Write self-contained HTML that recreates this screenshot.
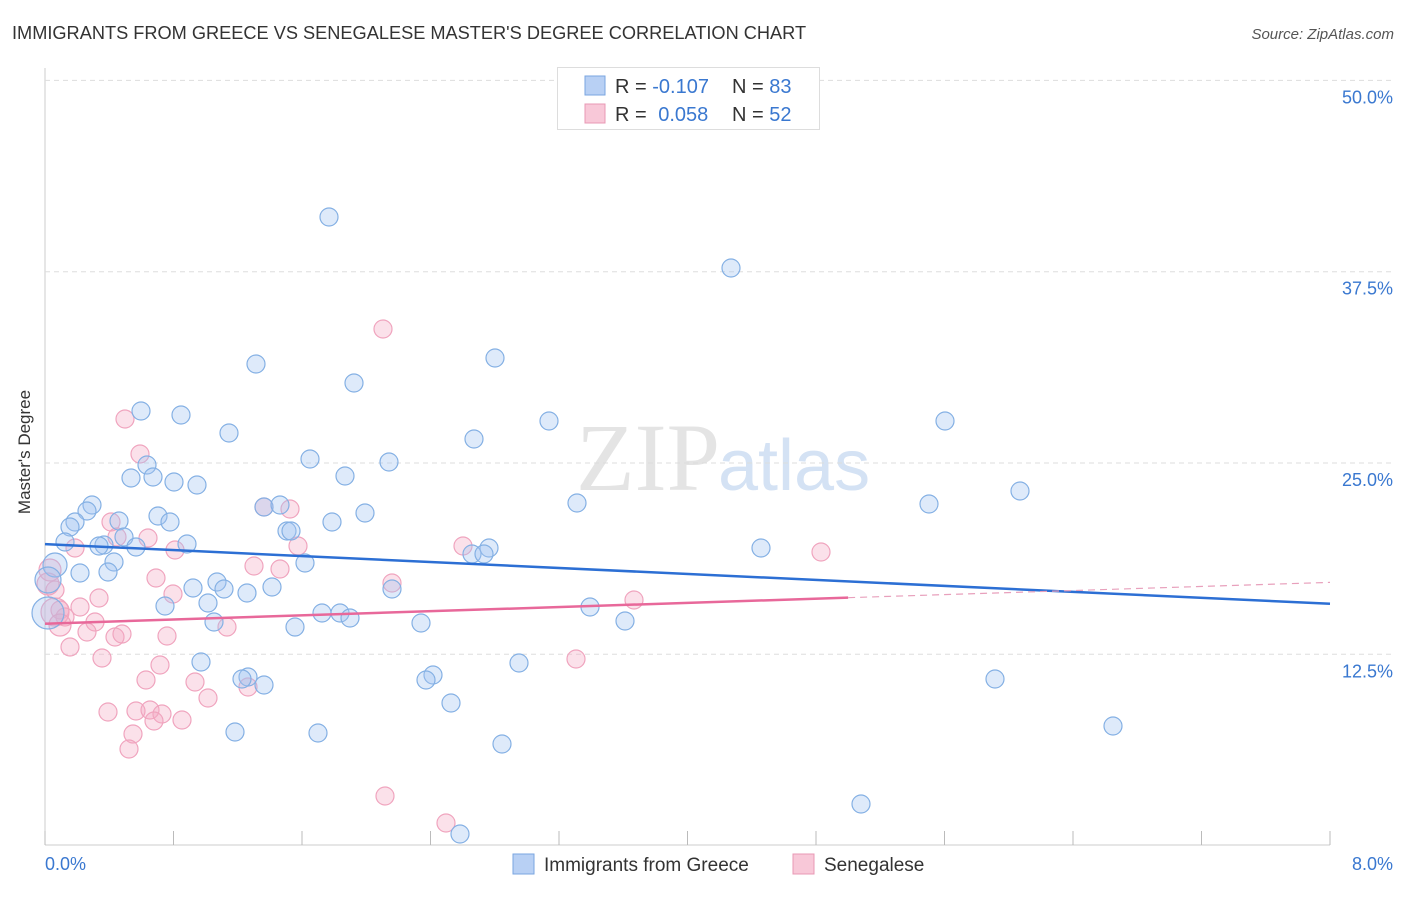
<!DOCTYPE html>
<html><head><meta charset="utf-8"><style>
body{margin:0;background:#fff;font-family:"Liberation Sans",sans-serif}
</style></head><body>
<svg id="c" width="1406" height="892" xmlns="http://www.w3.org/2000/svg">
<text x="12" y="39" font-size="18.2" fill="#333">IMMIGRANTS FROM GREECE VS SENEGALESE MASTER'S DEGREE CORRELATION CHART</text>
<text x="1394" y="39" font-size="15" fill="#555" font-style="italic" text-anchor="end">Source: ZipAtlas.com</text>
<text x="34" y="456" font-size="17" fill="#333" text-anchor="middle" transform="rotate(-90 30 456)">Master's Degree</text>
<text x="720" y="490" font-size="96" fill="#e4e4e4" text-anchor="end" font-family="Liberation Serif">ZIP</text>
<text x="718" y="490" font-size="72" fill="#d4e2f4">atlas</text>
<g id="grid"></g><g id="pts"></g><g id="lines"></g>
<g>
<rect x="557.5" y="67.5" width="262" height="62" fill="#fff" stroke="#ddd"/>
<rect x="585" y="76" width="20" height="19" fill="#b8d0f4" stroke="#7aa6e0"/>
<rect x="585" y="104" width="20" height="19" fill="#f8c8d8" stroke="#e898b4"/>
<text x="615" y="93" font-size="20" fill="#333">R = <tspan fill="#3a78d0">-0.107</tspan></text>
<text x="732" y="93" font-size="20" fill="#333">N = <tspan fill="#3a78d0">83</tspan></text>
<text x="615" y="121" font-size="20" fill="#333">R = <tspan fill="#3a78d0" dx="6">0.058</tspan></text>
<text x="732" y="121" font-size="20" fill="#333">N = <tspan fill="#3a78d0">52</tspan></text>
</g>
<g>
<rect x="513" y="854" width="21" height="20" fill="#b8d0f4" stroke="#7aa6e0"/>
<text x="544" y="871" font-size="19" fill="#333">Immigrants from Greece</text>
<rect x="793" y="854" width="21" height="20" fill="#f8c8d8" stroke="#e898b4"/>
<text x="824" y="871" font-size="19" fill="#333">Senegalese</text>
</g>
</svg>
<script>
const xTicks=[0,0.8,1.6,2.4,3.2,4,4.8,5.6,6.4,7.2,8];
const yTicks=[12.5,25,37.5,50];
const yTickLabels=["12.5%","25.0%","37.5%","50.0%"];
const blueX=[329,731,256,495,354,141,181,549,945,229,474,310,389,147,131,153,174,197,345,1020,577,929,92,87,264,280,365,158,170,119,332,75,70,287,291,124,65,187,104,99,136,489,472,484,761,114,305,55,80,108,217,272,193,224,247,392,48,165,208,590,322,340,350,214,421,625,295,48,201,519,433,426,248,242,264,995,451,235,318,1113,502,861,460].map(p=>(p-45)/1285*8);
const blueY=[217,268,364,358,383,411,415,421,421,433,439,459,462,465,478,477,482,485,476,491,503,504,505,511,507,505,513,516,522,521,522,522,527,531,531,537,542,544,545,546,547,548,554,554,548,562,563,565,573,572,582,587,588,589,593,589,580,606,603,607,613,613,618,622,623,621,627,613,662,663,675,680,677,679,685,679,703,732,733,726,744,804,834].map(p=>(845.6-p)/765.2*50);
const pinkX=[383,125,140,264,290,111,117,148,75,175,298,463,821,254,280,156,392,55,173,99,634,60,80,65,95,227,87,115,122,167,70,102,160,576,146,195,208,248,108,136,150,162,182,154,133,129,385,446,50,55,48,60].map(p=>(p-45)/1285*8);
const pinkY=[329,419,454,507,509,522,537,538,548,550,546,546,552,566,569,578,583,590,594,598,600,610,607,617,622,627,632,637,634,636,647,658,665,659,680,682,698,687,712,711,710,714,720,721,734,749,796,823,570,612,584,625].map(p=>(845.6-p)/765.2*50);
const blueTrend=[[0,19.7],[8,15.8]];
const pinkTrend=[[0,14.5],[5,16.2],[8,17.2]];
const X=v=>45+v/8*1285, Y=v=>845.6-v/50*765.2;
const NS="http://www.w3.org/2000/svg";
function mk(t,a,p){const e=document.createElementNS(NS,t);for(const k in a)e.setAttribute(k,a[k]);p.appendChild(e);return e;}
const g=document.getElementById('grid');
mk('line',{x1:45,y1:68,x2:45,y2:845,stroke:'#ccc'},g);
mk('line',{x1:45,y1:845,x2:1330,y2:845,stroke:'#ccc'},g);
xTicks.forEach(t=>{const e=mk('line',{x1:X(t),y1:845,x2:X(t),y2:831,stroke:'#bbb'},g);

});
yTicks.forEach((t,i)=>{const e=mk('line',{x1:45,y1:Y(t),x2:1394,y2:Y(t),stroke:'#ddd','stroke-dasharray':'5,4'},g);


const l=mk('text',{x:1393,y:Y(t)+23,'font-size':18,fill:'#3a78d0','text-anchor':'end'},g);l.textContent=yTickLabels[i];

});
[[0,'0.0%','start',45],[8,'8.0%','end',1393]].forEach(a=>{const l=mk('text',{x:a[3],y:870,'font-size':18,fill:'#3a78d0','text-anchor':a[2]},g);l.textContent=a[1];

});
const P=document.getElementById('pts');
pinkX.forEach((v,i)=>{const r=i>=48?(i==49?14:11):9;const c=mk('circle',{cx:X(v),cy:Y(pinkY[i]),r:r,fill:'rgba(244,170,196,0.35)',stroke:'#f0a4be','stroke-width':1.2},P);

});
blueX.forEach((v,i)=>{const r=(i==56)?13:(i==67?16:(i==47?12:9));const c=mk('circle',{cx:X(v),cy:Y(blueY[i]),r:r,fill:'rgba(160,196,240,0.35)',stroke:'#84b0e4','stroke-width':1.2},P);

});
const L=document.getElementById('lines');
let e=mk('line',{x1:X(blueTrend[0][0]),y1:Y(blueTrend[0][1]),x2:X(blueTrend[1][0]),y2:Y(blueTrend[1][1]),stroke:'#2c6fd4','stroke-width':2.5},L);


e=mk('line',{x1:X(pinkTrend[0][0]),y1:Y(pinkTrend[0][1]),x2:X(pinkTrend[1][0]),y2:Y(pinkTrend[1][1]),stroke:'#e8689a','stroke-width':2.5},L);


e=mk('line',{x1:X(pinkTrend[1][0]),y1:Y(pinkTrend[1][1]),x2:X(pinkTrend[2][0]),y2:Y(pinkTrend[2][1]),stroke:'#e8a0bc','stroke-width':1.2,'stroke-dasharray':'7,5'},L);


</script>
</body></html>
